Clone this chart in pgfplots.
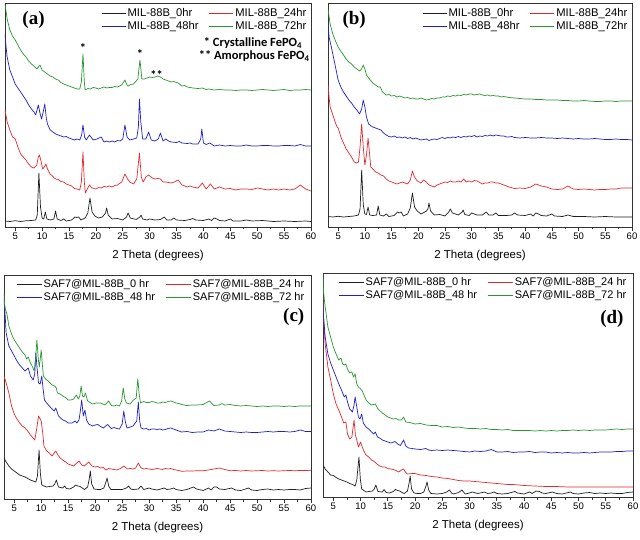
\documentclass[border=0pt]{standalone}
\usepackage{pgfplots}
\pgfplotsset{compat=1.18}
\usepackage{fontspec}
\setmainfont{Liberation Sans}
\newfontfamily\serifb{Liberation Serif}
\newfontfamily\cali{Carlito}
\newcommand\lgf{\fontsize{11.2}{12}\selectfont}
\newcommand\lgg{\fontsize{11}{13}\selectfont}
\newcommand\xlf{\fontsize{11.5}{12}\selectfont}
\newcommand\tkf{\fontsize{9.5}{10}\selectfont}
\newcommand\pan{\serifb\bfseries\fontsize{19}{19}\selectfont}
\newcommand\anf{\cali\bfseries\fontsize{12.5}{13}\selectfont}
\definecolor{cblk}{RGB}{30,30,30}
\definecolor{cred}{RGB}{228,40,44}
\definecolor{cblu}{RGB}{30,30,205}
\definecolor{cgrn}{RGB}{40,150,45}
\pgfplotsset{
  xrd/.style={
    scale only axis, height=224pt,
    xmin=3.1, xmax=60, ymin=0, ymax=224,
    ytick=\empty, xtick={5,10,...,60}, minor x tick num=1,
    xtick pos=left, tick align=outside,
    major tick length=4pt, minor tick length=2.5pt,
    axis line style={line width=0.8pt, black!80},
    every tick/.style={line width=0.7pt, black!80},
    /pgf/number format/assume math mode=true,
    xticklabel={\tkf\pgfmathprintnumber{\tick}},
    xticklabel style={inner sep=2pt},
    xlabel={\xlf 2 Theta (degrees)},
    xlabel style={at={(rel axis cs:0.5,0)}, anchor=center, yshift=-29pt},
    every axis plot/.append style={line width=0.7pt, line join=round},
    legend columns=2,
    legend cell align=left,
    legend style={draw=none, fill=none, inner sep=0pt, row sep=0pt,
      nodes={inner sep=1.5pt},
      /tikz/every even column/.append style={column sep=9pt}},
  },
  toplegend/.style={legend style={at={(rel axis cs:1,1)}, anchor=north east, xshift=-3pt, yshift=-4pt},
    legend image code/.code={\draw[##1] (0pt,0pt) -- (24pt,0pt);}},
  botlegend/.style={legend style={at={(rel axis cs:1,1)}, anchor=north east, xshift=-5pt, yshift=-3pt},
    legend image code/.code={\draw[##1] (0pt,0pt) -- (25pt,0pt);}},
}
\begin{document}
\begin{tikzpicture}
\path[use as bounding box] (0,0) rectangle (640pt,-540pt);
% ---------------- (a)
\begin{axis}[xrd, toplegend, width=306pt, at={(5pt,-227pt)}, anchor=south west]
\addplot[cblk] coordinates {(3.1,6)(4,5.5)(5,6.3)(6,5.5)(7,6.2)(8,6.5)(8.8,7)(9.1,12)(9.4,54)(9.7,20)(10,9)(10.3,8)(10.6,15)(10.9,8)(11.5,7)(12.2,8)(12.5,16)(12.8,8)(13.5,6.5)(14,8)(14.5,6)(15.5,7)(16.1,10)(16.4,9.5)(16.8,10)(17.2,7)(18,9)(18.5,14)(18.9,29)(19.3,15)(19.8,11)(20.5,9)(21.2,10)(21.5,12)(21.8,14)(22,19)(22.3,12)(23,8)(24,8.5)(25,7)(25.7,10)(26,14)(26.4,9)(27.5,7.5)(28.2,10)(28.4,12)(28.7,8)(29.5,7)(30,8)(31,7)(32,7.5)(32.7,10)(33.2,7)(34,7)(34.5,9)(35,7)(36.5,6.5)(37.5,7.5)(38,8.5)(38.6,7)(40,6.5)(41,8)(41.5,6.5)(42,9)(42.5,8)(43,6.5)(44,6)(45,8)(45.5,6)(47,6)(48,7)(49,6)(51,6.5)(53,5.5)(55,6)(57,5.5)(59,6)(60,5.5)};
\addplot[cred] coordinates {(3.1,117)(3.5,105)(4,97)(4.5,90)(4.8,89)(5,88)(5.5,80)(6,73)(6.5,70)(7,67)(7.5,63)(8,60)(8.5,59)(9,62)(9.3,70)(9.5,72)(9.8,66)(10.1,58)(10.4,60)(10.7,63)(11,58)(11.5,53)(12,50.5)(12.5,48)(13,47.5)(13.5,45.5)(14,45)(14.5,43)(15,42)(15.5,41)(16,38.5)(16.5,38)(17,37)(17.3,45)(17.6,75)(17.85,45)(18.05,34)(18.4,38)(18.8,42)(19.3,39)(20,38)(20.5,39.5)(21,39)(21.5,40.5)(22,40)(22.5,41)(23,40)(23.5,41.5)(24,42)(24.8,45)(25.4,53)(25.9,48)(26.3,45)(27,43)(27.6,48)(28.1,74)(28.45,50)(28.8,45)(29.3,50)(29.8,52)(30.5,49)(31,48)(31.5,48.5)(32,48)(32.5,45)(33,45)(34,44)(34.6,45)(35.3,47)(36,42)(37,40)(37.5,41)(38,40)(39,39)(39.8,44)(40.5,38)(41.3,43)(42,38)(42.5,39)(43,40)(44,38)(45,38.5)(46,37)(47,38)(48,38)(49,37.5)(50,39)(51,38)(52,37)(53,38)(54,37)(55,38)(56,37)(57,38)(58,42)(58.5,40)(59,38)(59.5,37)(60,36)};
\addplot[cblu] coordinates {(3.1,193)(3.3,180)(3.5,170)(4,157)(4.5,150)(5,143)(5.5,139)(6,135)(6.5,131)(7,127)(7.5,122)(8,118)(8.5,115)(8.8,112)(9.1,118)(9.3,122)(9.6,114)(9.9,108)(10.2,115)(10.5,123)(10.8,108)(11,103)(11.5,97)(12,95)(12.5,93)(13,92)(13.5,91)(14,90)(14.5,90.5)(15,89)(15.5,88)(16,87)(16.5,88)(17,87)(17.35,92)(17.6,102)(17.9,90)(18.2,87)(18.8,92)(19.5,87)(20.2,88)(21,90)(21.5,85)(22,86)(22.5,85)(23,86)(23.5,85)(24,86.5)(24.5,86)(25,88)(25.4,102)(25.8,90)(26.3,87)(27,88)(27.6,89)(27.9,100)(28.1,128)(28.35,105)(28.7,88)(29.3,88)(29.8,95)(30.3,87)(31,86)(31.6,88)(32,94)(32.5,86)(33,88)(33.5,86)(34,85)(35,84.5)(35.5,85.5)(36,84)(37,83.5)(37.5,84)(38,83)(39,83)(39.5,88)(39.7,98)(40,84)(40.5,82.5)(41.2,84)(42,81)(43,82)(44,81)(45,81.5)(46,81)(47,81)(48,82)(49,81)(50,81)(51,81.5)(52,81.5)(53,81)(54,81)(55,81.5)(56,81.5)(57,81)(58,82.5)(59,81)(60,81)};
\addplot[cgrn] coordinates {(3.1,223)(3.5,208)(4,197)(4.5,191)(5,187)(5.5,182)(6,177)(6.5,173)(7,170)(7.5,166)(8,163)(8.5,161)(9,158)(9.6,162)(10,157)(10.5,155)(11,153)(11.5,151)(12,150)(12.5,148)(13,147)(13.5,144.5)(14,143)(14.5,142)(15,141)(15.5,140)(16,139)(16.5,138)(17,138)(17.3,145)(17.6,173)(17.85,145)(18,137)(18.5,138.5)(19,138)(19.5,139.5)(20,139)(20.5,138)(21,139)(21.5,140)(22,139)(22.5,139.5)(23,139.5)(23.5,140.5)(24,140)(24.8,142)(25.4,147)(25.8,142)(26,141)(26.5,142.5)(27,143)(27.8,148)(28.2,167)(28.55,148)(29,148)(29.5,149)(30,150)(30.5,149.5)(31,150)(31.5,151)(32,150)(32.5,148)(33,147)(33.5,146)(34,145)(34.5,145.5)(35.3,144)(36,141)(36.5,141.5)(37,140)(38,139)(39,138.5)(39.8,139)(40.5,137.5)(41,138)(42,137)(43,137.5)(44,137)(45,137)(46,136.5)(47,137)(48,137)(49,136.5)(50,137)(51,137.5)(52,137)(53,136.5)(54,137)(55,137.5)(56,136.5)(57,137)(58,137)(59,137.5)(60,137)};
\legend{{\lgf MIL-88B\_0hr}, {\lgf MIL-88B\_24hr}, {\lgf MIL-88B\_48hr}, {\lgf MIL-88B\_72hr}}
\node at (axis cs:8.4,207) {\pan (a)};
\node at (axis cs:17.6,179) {\anf *};
\node at (axis cs:28.2,173) {\anf *};
\node at (axis cs:31.3,152) {\anf **};
\node[anchor=west, inner sep=0pt] at (axis cs:40.05,184) {\anf * Crystalline FePO\textsubscript{4}};
\node[anchor=west, inner sep=0pt] at (axis cs:39.1,171) {\anf ** Amorphous FePO\textsubscript{4}};
\end{axis}
% ---------------- (b)
\begin{axis}[xrd, toplegend, width=304pt, at={(328pt,-227pt)}, anchor=south west]
\addplot[cblk] coordinates {(3.1,10.5)(4,10)(5,10.7)(6,10)(7,10.5)(8,11)(8.8,12)(9.1,18)(9.4,57)(9.7,22)(10,13)(10.3,12.5)(10.6,20)(10.9,12)(11.5,11.5)(12.2,12)(12.5,21)(12.8,12)(13.5,11)(14,13)(14.5,10.5)(15.5,11.5)(16.1,15)(16.4,14)(16.8,15)(17.2,11)(18,13)(18.5,19)(18.9,34)(19.3,20)(19.8,16)(20.5,13)(21.2,15)(21.5,16)(21.8,18)(22,24)(22.3,16)(23,12)(24,12.5)(25,11)(25.7,15)(26,18)(26.4,14)(27.5,12)(28.2,15)(28.4,17)(28.7,12.5)(29.5,11.5)(30,14)(31,12)(32,12)(32.7,15)(33.2,12)(34,12)(34.5,14)(35,11.5)(36.5,11.5)(37.5,12)(38,14)(38.6,12)(40,11.5)(41,13)(41.5,11)(42,14)(42.5,13)(43,11.5)(44,11)(45,13)(45.5,11)(47,10.5)(48,12)(49,10.5)(51,10.5)(53,10)(55,10.5)(57,10)(59,10)(60,10)};
\addplot[cred] coordinates {(3.1,142)(3.3,130)(3.5,120)(4,112)(4.5,104)(4.8,100)(5,99)(5.3,94)(5.5,90)(6,84)(6.5,78)(7,74)(7.5,70)(8,65)(8.5,64)(8.8,65)(9.1,80)(9.4,103)(9.7,80)(10,62)(10.3,72)(10.6,89)(10.9,72)(11.1,60)(11.5,58)(12,55)(12.5,54)(13,52)(13.5,51)(14,48)(14.5,46)(15,45)(15.5,44)(16,43)(16.5,44)(17,45)(17.5,44)(18,43)(18.5,47)(18.9,56)(19.3,50)(19.8,46)(20.5,44)(21,47)(21.5,45)(22,42)(22.5,41)(23,40)(23.5,42)(24,43)(24.5,44)(25,45)(25.5,44.5)(26,46)(26.5,45)(27,45)(27.5,46)(28,45)(28.5,48)(29,45)(29.5,46)(30,45)(30.5,46.5)(31,46)(31.5,44.5)(32,43)(32.5,44)(33,44)(33.5,45)(34,45)(34.5,44)(35,44)(35.5,43)(36,42)(37,40)(38,38.5)(39,39)(40,38.5)(41,40)(42,43)(43,41)(44,40)(45,38)(46,37.5)(47,38)(48,41)(49,38)(50,37.5)(51,38)(52,37.5)(53,37)(54,37.5)(55,37.5)(56,38)(57,38)(58,39)(59,39)(60,39)};
\addplot[cblu] coordinates {(3.1,203)(3.3,190)(3.6,183)(4,173)(4.5,160)(5,147)(5.5,140)(6,135)(6.5,131)(7,127)(7.5,124)(8,120)(8.5,117)(9,113)(9.4,118)(9.7,127)(10,120)(10.3,110)(10.7,103)(11.2,101)(11.5,100)(12,99)(12.5,98)(13,97)(13.5,94)(14,92)(14.5,90.5)(15,90)(15.5,91)(16,89.5)(16.5,90)(17,89)(17.5,90)(18,88.5)(18.5,89.5)(19,88)(19.5,89)(20,88)(20.5,87)(21,87.5)(21.5,88)(22,86.5)(22.5,87.5)(23,88)(23.5,87.5)(24,88.5)(24.5,89.5)(25,88.5)(25.5,89.5)(26,89)(26.5,90)(27,89.5)(27.5,90.5)(28,89.5)(28.5,90.5)(29,90)(29.5,91)(30,90.5)(30.5,91.5)(31,90)(31.5,91)(32,90.5)(32.5,91.5)(33,91)(33.5,92)(34,91)(34.5,92)(35,91.5)(35.5,91)(36,91)(36.5,90)(37,90)(37.5,90.5)(38,89.5)(39,89)(40,89.5)(41,89)(42,89)(43,89.5)(44,89)(45,89)(46,88.5)(47,89)(48,88.5)(49,88)(50,88.5)(51,88)(52,88)(53,88.5)(54,88)(55,87.5)(56,87.5)(57,88)(58,87.5)(59,87.5)(60,87)};
\addplot[cgrn] coordinates {(3.1,218)(3.5,203)(4,193)(4.5,186)(5,180)(5.5,176)(6,172)(6.5,168)(7,165)(7.5,163)(8,160)(8.5,158)(9,156)(9.4,158)(9.7,162)(10,158)(10.3,152)(11,147)(11.5,144)(12,142)(12.5,140)(12.9,140)(13.3,135)(14,132)(14.5,132.5)(15,131)(15.5,131.5)(16,130)(16.5,131)(17,130)(17.5,129)(18,129.5)(18.5,128.5)(19,129)(19.5,128)(20,128)(20.5,129)(21,128)(21.5,127)(22,127.5)(22.5,128.5)(23,128)(23.5,129)(24,129)(24.5,130)(25,130)(25.5,131)(26,130.5)(26.5,131.5)(27,131)(27.5,132)(28,131.5)(28.5,132.5)(29,132)(29.5,133)(30,133)(30.5,132)(31,132.5)(31.5,133)(32,132)(32.5,131.5)(33,132)(33.5,131)(34,131.5)(34.5,131)(35,131)(35.5,130)(36,130.5)(37,129.5)(38,129)(39,128.5)(40,128)(41,128)(42,127.5)(43,127.5)(44,127)(45,127)(46,127)(47,126.5)(48,126.5)(49,126)(50,126)(51,126.5)(52,126)(53,125.5)(54,125.5)(55,126)(56,126)(57,125.5)(58,126)(59,126)(60,126)};
\legend{{\lgf MIL-88B\_0hr}, {\lgf MIL-88B\_24hr}, {\lgf MIL-88B\_48hr}, {\lgf MIL-88B\_72hr}}
\node at (axis cs:8.0,207) {\pan (b)};
\end{axis}
% ---------------- (c)
\begin{axis}[xrd, botlegend, width=307pt, at={(4pt,-499pt)}, anchor=south west]
\addplot[cblk] coordinates {(3.1,41)(3.5,37)(4,33)(4.5,30)(5,28)(5.5,26)(6,24)(6.5,23)(7,22)(7.5,20.5)(8,19)(8.5,18)(9,17)(9.3,23)(9.6,49)(9.85,25)(10.1,14)(10.5,13)(11,12)(11.5,12.5)(12.2,13)(12.5,15)(12.8,19)(13.2,12)(14,11)(14.3,13)(14.7,10.5)(15.3,10)(16,12)(16.4,14)(16.8,13)(17.2,12.5)(17.6,11)(18,9.5)(18.6,12)(18.9,20)(19.1,28)(19.35,15)(19.8,10)(20.5,9.5)(21,9.5)(21.6,11)(22,17)(22.2,21)(22.5,13)(22.9,9.5)(24,9.5)(25,9.5)(25.8,11)(26.2,13)(26.6,10)(27,9.5)(28,10)(28.5,13)(29,9.5)(30,11)(30.5,10)(31.5,9)(32.8,11)(33.3,9.5)(34,10)(34.5,11)(35,9.5)(36,8.5)(37,9.5)(38.2,12)(38.8,10)(40,8.5)(41,11)(41.5,9)(42,12)(42.5,12)(43,10)(44,9.5)(45.3,11)(46,9)(47,8.5)(48.4,11)(49,9)(50,8.5)(51,9.5)(52,10)(53,9)(54,9.5)(55,9)(56,9.5)(57,9.5)(58,9)(59,10.5)(60,11)};
\addplot[cred] coordinates {(3.1,123)(3.5,116)(4,106)(4.5,93)(5,85)(5.5,80)(6,76)(6.5,73)(7,71)(7.5,68)(8,64)(8.5,61)(8.8,59)(9.1,68)(9.5,83)(9.8,80)(10,78)(10.3,65)(10.5,53)(11,48)(11.5,46)(12,43)(12.4,46)(12.7,48)(13.1,44)(13.5,41)(14,39)(14.5,37)(15,35)(15.5,34)(16,33)(16.6,36)(17,38)(17.5,34)(18,33)(18.8,37)(19.4,33)(20,32)(20.5,32.5)(21,31)(21.5,31.5)(22,29)(22.5,30.5)(23,30)(23.5,29.5)(24,29)(24.7,30.5)(25.3,33)(26,30)(26.5,30.5)(27,30)(27.5,31)(28,36)(28.5,31)(29,30)(29.5,30.5)(30,30)(30.5,29.5)(31,30)(31.5,30.5)(32,30)(32.5,29.5)(33,30.5)(33.5,30)(34,30.5)(34.5,29.5)(35,29)(35.5,28.5)(36,27.7)(37,28)(38,28)(39,28.3)(40,28.3)(41,29)(42,30)(43,31)(44,29.5)(45,28.3)(46,28.5)(47,28)(48,28.5)(49,28)(50,28.3)(51,28.5)(52,28)(53,28.3)(54,28)(55,28.3)(56,28.5)(57,28.3)(58,28.5)(59,28.5)(60,28.7)};
\addplot[cblu] coordinates {(3.1,199)(3.3,185)(3.5,166)(4,153)(4.5,148)(5,143)(5.5,138)(6,134)(6.5,131)(7,128)(7.6,131)(8,123)(8.5,119)(8.8,125)(9,146)(9.25,130)(9.5,116)(9.8,115)(10.1,123)(10.35,110)(10.6,99)(11,96)(11.5,93)(12,90)(12.4,88)(12.7,91)(13.2,83)(14,79)(14.5,78)(15,76)(15.7,76)(16.3,78)(16.6,76)(17,79)(17.25,88)(17.5,99)(17.8,83)(18.1,89)(18.4,79)(18.8,75)(19.5,73)(20,74)(20.5,74.5)(21,72.5)(21.5,71)(22.3,74.5)(23,70.5)(23.5,71.5)(24,70.5)(24.5,70)(25,75)(25.3,88)(25.6,77)(25.9,71)(26.5,72)(27,73)(27.7,78)(28,97)(28.25,78)(28.5,71)(29,70)(29.5,70.5)(30,69)(30.5,70)(31,70)(31.5,69.5)(32,70)(32.5,69)(33,69.5)(33.5,70.5)(34,71)(34.5,70)(35,69)(35.5,68)(36,67)(37,67.5)(38,66.5)(39,67)(40,67)(41,69)(42,68)(43,70)(44,68)(45,67.5)(46,67)(47,66.5)(48,67)(49,66.5)(50,66.5)(51,67)(52,67.5)(53,67)(54,67.5)(55,67.5)(56,67)(57,67.5)(58,69)(59,67.5)(60,67.5)};
\addplot[cgrn] coordinates {(3.1,206)(3.2,195)(3.4,189)(3.6,186)(3.8,180)(4,173)(4.5,165)(5,159)(5.5,155)(6,151)(6.5,147)(7,144)(7.3,140)(7.6,142)(8,136)(8.4,132)(8.7,128)(8.95,140)(9.2,159)(9.45,140)(9.65,132)(10,149)(10.2,135)(10.4,123)(10.8,120)(11.3,118)(12,114)(12.5,113)(12.8,111)(13,106)(13.5,105)(14,103)(14.5,101.5)(15,99)(15.5,99)(16,100)(16.5,104)(16.9,100)(17.15,103)(17.4,113)(17.65,103)(17.9,102)(18.2,106)(18.6,98)(19.5,95)(20.2,96)(21,96)(21.8,94)(22.5,98)(23,93.5)(23.5,93)(24,94)(24.5,93)(24.9,98)(25.2,111)(25.5,100)(25.8,96)(26.5,95)(27,98.5)(27.6,101)(27.9,120)(28.15,105)(28.4,96)(29,97.5)(29.5,96.5)(30,96.5)(30.5,97.5)(31,97)(31.5,96)(32,96)(32.5,97)(33,96.5)(33.5,97.5)(34,98)(34.5,97)(35,96)(35.5,95.5)(36,94.5)(37,93.5)(38,94)(39,94)(40,94.5)(41.2,98)(42,93.5)(43,94)(43.5,95.5)(44,94)(45,94.5)(46,93.5)(47,93)(48,93.5)(49,93)(50,92.5)(51,93)(52,92.5)(53,93)(54,93)(55,92.5)(56,93)(57,92.5)(58,93)(59,93)(60,93)};
\legend{{\lgg SAF7@MIL-88B\_0 hr}, {\lgg SAF7@MIL-88B\_24 hr}, {\lgg SAF7@MIL-88B\_48 hr}, {\lgg SAF7@MIL-88B\_72 hr}}
\node[anchor=east, inner sep=0pt] at (axis cs:58.8,182) {\pan (c)};
\end{axis}
% ---------------- (d)
\begin{axis}[xrd, botlegend, width=310pt, at={(323pt,-497pt)}, anchor=south west]
\addplot[cblk] coordinates {(3.1,32)(3.5,28)(4,25)(4.5,22)(5,21.5)(5.5,19.5)(6,18)(6.5,17)(7,16)(7.5,15)(8,13.5)(8.5,12.5)(9,11)(9.3,17)(9.7,40)(9.95,18)(10.2,8)(10.6,6.5)(11,5)(11.5,5.5)(12.2,6)(12.5,8)(12.8,12)(13.2,5.5)(14,5)(14.3,7.5)(14.7,4.5)(15.3,4)(16,5.5)(16.4,7.5)(16.8,6.5)(17.2,6)(17.6,4.5)(18,3.5)(18.6,6)(18.9,14)(19.1,21)(19.35,8)(19.8,4)(20.5,3.5)(21,3.5)(21.6,5)(22,11)(22.2,15)(22.5,7)(22.9,3.5)(24,3)(25,3.5)(25.8,5)(26.3,7)(26.7,4)(27,3)(28,4.5)(28.6,7)(29.2,3)(30,4)(30.5,5)(31.5,3.5)(32.8,5)(33.3,3.5)(34,4)(34.5,5)(35,3.5)(36,3)(37,3.5)(38.3,5.5)(38.8,4)(40,3)(41,5)(41.5,3.5)(42.2,6)(42.8,5.5)(43.3,4)(44,3.5)(45.2,5)(46,3.5)(47,3)(48.5,5)(49,3.5)(50,3)(51,4)(52,4.5)(53,3.5)(54,4)(55,3.5)(56,4)(57,3.5)(58,3.5)(59,4.5)(60,5)};
\addplot[cred] coordinates {(3.1,200)(3.2,180)(3.5,153)(4,130)(4.5,117)(5,103)(5.5,93)(6,87)(6.5,80)(6.9,74)(7.3,75)(7.6,63)(8,58)(8.4,60)(8.8,77)(9.05,62)(9.3,57)(9.6,50)(10,55)(10.3,50)(10.6,46)(11,42)(11.5,40)(12,37)(12.5,35.5)(13,33)(13.5,31)(14,30)(14.5,30)(15,28.5)(15.5,28)(16,27.5)(16.5,26.5)(17,25)(17.5,27)(17.9,28)(18.2,25)(18.6,23)(19.5,23.5)(20,23.5)(21,22)(22,21.5)(22.5,21)(23,20.5)(24,20)(25,19)(26,18.5)(27,17.5)(28,16.5)(29,16)(30,16)(31,15.5)(32,15)(33,14.5)(34,14)(35,13.5)(36,13)(37,12.5)(38,12.5)(39,12)(40,11.5)(42,11)(44,10.5)(46,10.5)(48,10)(50,10)(52,10)(54,10)(56,10)(58,10)(60,10)};
\addplot[cblu] coordinates {(3.1,193)(3.2,180)(3.5,160)(4,143)(4.5,134)(5,127)(5.5,120)(6,113)(6.5,107)(7,100)(7.3,102)(7.6,95)(8,88)(8.5,85)(8.8,92)(9,100)(9.3,90)(9.6,80)(9.9,78)(10.2,83)(10.5,74)(11,70)(11.5,68)(12,65)(12.4,63)(12.7,65)(13.1,60)(13.5,59)(14,57)(14.5,56)(15,55)(15.6,54)(16.3,55.5)(16.8,53)(17.3,51.5)(17.9,57)(18.3,51)(18.8,49)(19.5,48.5)(20,48)(21,47.5)(22,48.5)(22.5,47)(23,46.5)(24,47)(25,46.5)(26,47)(27,46.5)(28,46)(29,45.5)(30,45)(31,46)(32,45.5)(33,46)(34,47.5)(35,45)(36,45)(37,45.5)(38,44.5)(39,45)(40,45)(41,45.5)(42,44.5)(43,45)(44,45)(45,44)(46,44.5)(47,44)(48,44.5)(49,44)(50,44)(51,44.5)(52,44)(53,44.5)(54,45)(55,45)(56,45)(57,45.5)(58,45.5)(59,46)(60,46)};
\addplot[cgrn] coordinates {(3.1,223)(3.2,205)(3.5,190)(4,170)(4.5,160)(5,150)(5.5,143)(6,137)(6.4,139)(6.7,133)(7,132)(7.3,133)(7.6,128)(8,124)(8.4,125)(8.7,120)(9,123)(9.3,113)(9.6,110)(10,108)(10.3,106)(10.7,101)(11,97)(11.5,94)(12,92)(12.7,93)(13.2,88)(14,84)(14.5,82)(15,80)(15.5,79)(16,78)(16.5,78.5)(17,77)(17.5,77)(17.9,80)(18.3,75)(19,74.5)(20,73)(21,73.5)(22,72)(23,71.5)(24,71.5)(25,70)(26,70.5)(27,69.5)(28,70)(29,69)(30,68.5)(31,68.5)(32,68)(33,68.5)(34,67.5)(35,67.5)(36,67)(37,67.5)(38,66.5)(39,66.5)(40,66.5)(41,66.5)(42,66)(43,66.5)(44,66)(45,66.5)(46,66)(47,66.5)(48,66.5)(49,67)(50,66.5)(51,67)(52,66.5)(53,67)(54,67)(55,67)(56,67.5)(57,68)(58,67.5)(59,68)(60,68)};
\legend{{\lgg SAF7@MIL-88B\_0 hr}, {\lgg SAF7@MIL-88B\_24 hr}, {\lgg SAF7@MIL-88B\_48 hr}, {\lgg SAF7@MIL-88B\_72 hr}}
\node[anchor=east, inner sep=0pt] at (axis cs:58.3,178) {\pan (d)};
\end{axis}
\end{tikzpicture}
\end{document}
